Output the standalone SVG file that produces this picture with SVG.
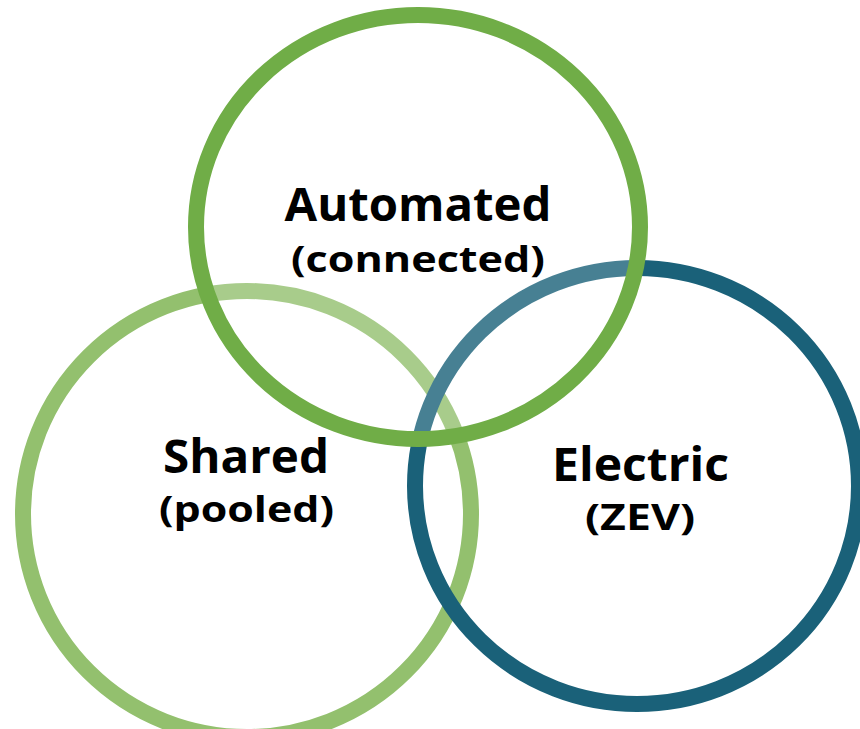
<svg xmlns="http://www.w3.org/2000/svg" width="860" height="729" viewBox="0 0 860 729">
  <style>
    .ring { stroke-width: 16; }
    .title { font-family: "Open Sans", "DejaVu Sans", sans-serif; font-weight: 700; font-size: 46px; fill: #000; text-anchor: middle; }
    .sub { font-family: "Open Sans", "DejaVu Sans", sans-serif; font-weight: 700; font-size: 36px; fill: #000; text-anchor: middle; }
  </style>
  <rect width="860" height="729" fill="#ffffff"/>

  <g id="shared">
    <ellipse class="ring" cx="247" cy="514" rx="224" ry="223" fill="none" stroke="#93c06e"/>
  </g>

  <g id="electric">
    <ellipse class="ring" cx="637" cy="486" rx="222" ry="218" fill="none" stroke="#1a6179"/>
  </g>

  <!-- top ring carries a faint white wash that lightens the rings beneath it -->
  <g id="automated">
    <ellipse class="ring" cx="418" cy="227" rx="222" ry="212" fill="#ffffff" fill-opacity="0.2" stroke="#70ad47"/>
  </g>

  <g id="labels">
    <text class="title" x="418" y="221" textLength="267" lengthAdjust="spacingAndGlyphs">Automated</text>
    <text class="sub" x="418" y="272" textLength="254" lengthAdjust="spacingAndGlyphs">(connected)</text>
    <text class="title" x="246" y="473" textLength="166" lengthAdjust="spacingAndGlyphs">Shared</text>
    <text class="sub" x="246.5" y="522" textLength="175" lengthAdjust="spacingAndGlyphs">(pooled)</text>
    <text class="title" x="640.5" y="481" textLength="177" lengthAdjust="spacingAndGlyphs">Electric</text>
    <text class="sub" x="640" y="530" textLength="110" lengthAdjust="spacingAndGlyphs">(ZEV)</text>
  </g>
</svg>
